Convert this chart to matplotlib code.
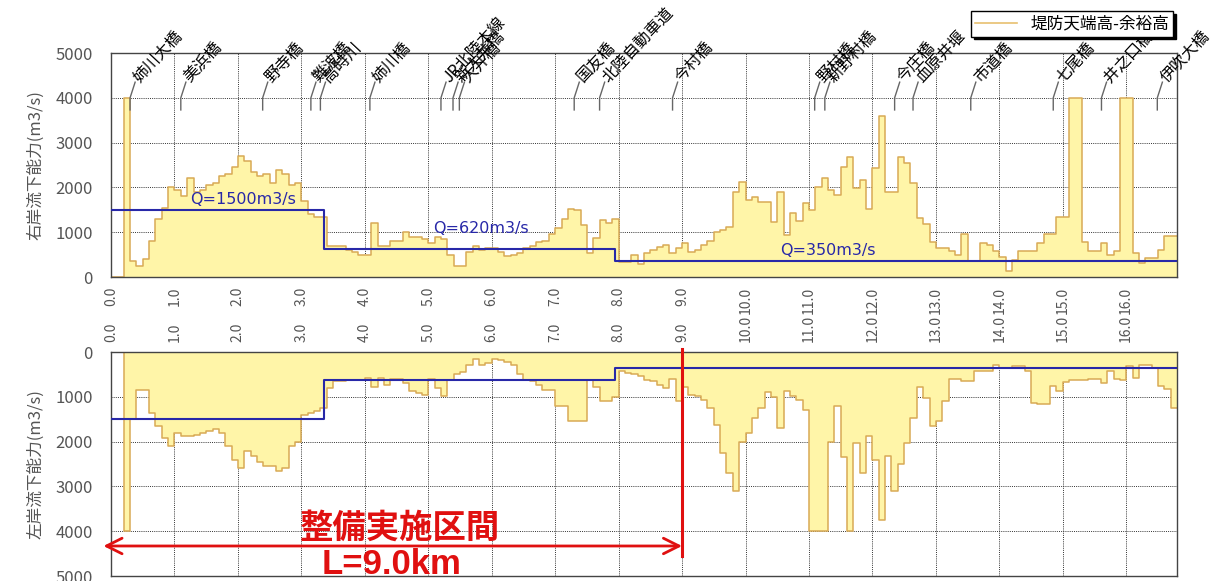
import numpy as np
import matplotlib
matplotlib.use("Agg")
from matplotlib import pyplot as plt
from matplotlib.lines import Line2D

plt.rcParams['font.family'] = ['Noto Sans CJK JP', 'DejaVu Sans']

# chainage of each 0.1 km section (km)
km = np.round(np.arange(0, 16.8, 0.1), 1)
km_end = 16.8

# right bank discharge capacity (m3/s)
right_q = [
    0, 0, 4000, 350, 250, 400, 800, 1300, 1550, 2000,
    1950, 1800, 2200, 1900, 1950, 2050, 2100, 2250, 2300, 2450,
    2700, 2600, 2350, 2250, 2300, 2100, 2400, 2300, 2050, 2100,
    1700, 1400, 1350, 1350, 700, 700, 700, 600, 550, 500,
    500, 1200, 700, 700, 800, 800, 1000, 900, 900, 850,
    750, 900, 850, 500, 250, 250, 550, 700, 600, 650,
    650, 550, 480, 500, 530, 650, 700, 780, 800, 970,
    1100, 1300, 1520, 1500, 1160, 530, 860, 1270, 1200, 1300,
    340, 340, 500, 300, 530, 600, 680, 710, 530, 650,
    750, 565, 600, 715, 800, 1000, 1050, 1120, 1900, 2130,
    1720, 1790, 1680, 1680, 1230, 1900, 940, 1420, 1250, 1660,
    1500, 2000, 2220, 1940, 1830, 2450, 2690, 1980, 2170, 1510,
    2430, 3590, 1900, 1900, 2690, 2550, 2090, 1310, 1180, 790,
    640, 640, 570, 490, 950, 365, 365, 750, 710, 590,
    450, 140, 390, 590, 590, 590, 770, 970, 970, 1350,
    1350, 4000, 4000, 790, 570, 570, 770, 490, 590, 4000,
    4000, 540, 320, 420, 420, 600, 910, 910,
]

# left bank discharge capacity (m3/s)
left_q = [
    0, 0, 4000, 1500, 850, 850, 1350, 1650, 1920, 2100,
    1800, 1880, 1880, 1850, 1800, 1770, 1720, 1800, 2100, 2400,
    2600, 2220, 2330, 2450, 2550, 2550, 2650, 2600, 2100, 2000,
    1400, 1360, 1320, 1250, 800, 650, 650, 620, 620, 620,
    580, 780, 580, 730, 600, 600, 700, 880, 915, 950,
    600, 800, 990, 620, 500, 450, 300, 150, 280, 250,
    150, 170, 220, 300, 500, 620, 650, 730, 840, 840,
    1200, 1200, 1530, 1530, 1530, 620, 770, 1100, 1100, 1000,
    430, 470, 500, 540, 620, 650, 730, 800, 600, 1100,
    770, 950, 990, 1060, 1250, 1620, 2250, 2700, 3110, 2000,
    1810, 1470, 1250, 900, 1000, 1700, 860, 990, 1060, 1300,
    4000, 4000, 4000, 2000, 1210, 2340, 4000, 2030, 2700, 1880,
    2400, 3740, 2330, 3110, 2510, 2030, 1470, 770, 1030, 1660,
    1550, 1100, 600, 600, 650, 650, 430, 430, 430, 280,
    360, 360, 320, 320, 430, 1140, 1150, 1150, 750, 860,
    680, 630, 630, 630, 600, 600, 690, 430, 600, 620,
    320, 580, 300, 300, 360, 750, 830, 1250,
]

# design discharge reaches
plan_km = [0.0, 3.35, 7.95, 16.8]
plan_q = [1500, 620, 350]
plan_labels = ["Q=1500m3/s", "Q=620m3/s", "Q=350m3/s"]
plan_label_pos = [(1.25, 1720), (5.08, 1090), (10.55, 600)]

# bridges / crossings along the river
bridge_names = ["姉川大橋", "美浜橋", "野寺橋", "難波橋", "高時川", "姉川橋",
                "JR北陸本線", "新大井橋", "大井橋", "国友橋", "北陸自動車道", "今村橋",
                "野村橋", "新野村橋", "今庄橋", "血原井堰", "市道橋", "七尾橋",
                "井之口橋", "伊吹大橋"]
bridge_km = [0.30, 1.10, 2.39, 3.15, 3.30, 4.08, 5.20, 5.39, 5.49, 7.30, 7.70,
             8.85, 11.09, 11.25, 12.35, 12.64, 13.55, 14.85, 15.61, 16.49]

fill_color = "#fff5a8"
edge_color = "#d8aa55"
plan_color = "#2828a8"
grid_color = "#333333"
text_gray = "#555555"
red = "#e01010"

fig = plt.figure(figsize=(12.12, 5.81), dpi=100)
ax1 = fig.add_axes([0.0916, 0.5232, 0.8795, 0.3855])
ax2 = fig.add_axes([0.0916, 0.0086, 0.8795, 0.3855])

edges = np.append(km, km_end)
plan_edges = np.array(plan_km)
plan_ext = np.append(plan_q, plan_q[-1])

for ax, q, ylab in [(ax1, right_q, "右岸流下能力(m3/s)"),
                    (ax2, left_q, "左岸流下能力(m3/s)")]:
    q_ext = np.append(q, q[-1])
    ax.fill_between(edges, 0, q_ext, step="post", color=fill_color, lw=0, zorder=1)
    ax.step(edges, q_ext, where="post", color=edge_color, lw=1.1, zorder=2)
    ax.step(plan_edges, plan_ext, where="post", color=plan_color, lw=1.5, zorder=3)

    ax.set_xlim(0, km_end)
    ax.set_ylim(0, 5000)
    ax.set_xticks(np.arange(0, 17, 1))
    ax.set_xticklabels([f"{v:.1f}" for v in range(17)], rotation=90)
    ax.set_yticks(np.arange(0, 5001, 1000))
    ax.grid(True, color=grid_color, ls=(0, (1, 1.2)), lw=0.7, zorder=0)
    ax.set_axisbelow(True)
    ax.tick_params(length=0, labelsize=12, colors=text_gray, pad=13)
    ax.tick_params(axis="x", labelsize=10, pad=7)
    ax.set_ylabel(ylab, fontsize=12, color=text_gray, labelpad=8)
    for s in ax.spines.values():
        s.set_color("#444444")
        s.set_linewidth(1.0)

# lower panel: depth downward, chainage on top
ax2.invert_yaxis()
ax2.xaxis.tick_top()

for txt, (x, y) in zip(plan_labels, plan_label_pos):
    ax1.text(x, y, txt, color=plan_color, fontsize=11.5, va="center", ha="left",
             family=["DejaVu Sans"], zorder=4)

# bridge leaders and names
for name, x in zip(bridge_names, bridge_km):
    ax1.plot([x, x, x + 0.08], [3730, 4000, 4350], color="#666666", lw=1.0,
             clip_on=False, zorder=4)
    ax1.text(x + 0.09, 4400, name, rotation=47, rotation_mode="anchor",
             ha="left", va="center", fontsize=11.5, clip_on=False, zorder=5)

# works section marker
ax2.plot([9.0, 9.0], [-60, 4550], color=red, lw=2.2, clip_on=False, zorder=6)
ax2.annotate("", xy=(-0.12, 4330), xytext=(9.0, 4330),
             arrowprops=dict(arrowstyle="<->", color=red, lw=2.0,
                             mutation_scale=28, shrinkA=0, shrinkB=0),
             annotation_clip=False, zorder=6)
ax2.text(4.56, 3930, "整備実施区間", color=red, fontsize=24,
         fontweight="bold", ha="center", va="center", zorder=7)
ax2.text(4.42, 4740, "L=9.0km", color=red, fontsize=25,
         fontweight="bold", ha="center", va="center", family=["Liberation Sans"],
         zorder=7)

handle = Line2D([], [], color="#e8c070", lw=1.2)
fig.legend([handle], ["堤防天端高-余裕高"], loc="upper right",
           bbox_to_anchor=(0.975, 0.995), fontsize=12, frameon=True,
           fancybox=False, edgecolor="black", framealpha=1,
           shadow={"color": "black", "alpha": 1}, handlelength=2.5,
           borderpad=0.25)

fig.savefig("out.png", dpi=100)
plt.close(fig)
